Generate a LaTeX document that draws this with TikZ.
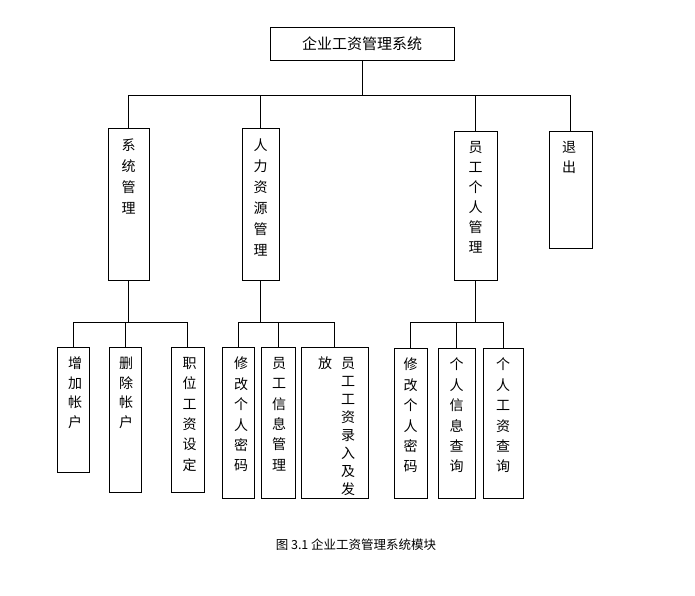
\documentclass[tikz,border=0pt]{standalone}
\usepackage{fontspec}
\newfontfamily\cjk{Noto Sans CJK SC}

\begin{document}
\begin{tikzpicture}[
  x=1pt,y=-1pt,
  line cap=rect,
  line join=miter,
  modbox/.style={draw=black,line width=0.8pt,inner sep=0pt,anchor=north},
  coltext/.style={anchor=north,align=center,inner sep=0pt,
    font=\cjk\fontsize{14}{20}\selectfont},
  link/.style={black,line width=0.8pt}
]
\path[use as bounding box,fill=white] (0,0) rectangle (695,595);

% root
\node[modbox,anchor=center,minimum width=184pt,minimum height=33pt,
  font=\cjk\fontsize{15}{18}\selectfont] (root) at (362,43.5) {企业工资管理系统};

% second level
\node[modbox,minimum width=41pt,minimum height=152pt] (sys) at (128.5,128) {};
\node[modbox,minimum width=37pt,minimum height=152pt] (hr) at (260.5,128) {};
\node[modbox,minimum width=43pt,minimum height=149pt] (staff) at (475.5,131) {};
\node[modbox,minimum width=43pt,minimum height=117pt] (quit) at (570.5,131) {};

\node[coltext,font=\cjk\fontsize{14}{21}\selectfont] (sysT) at ([yshift=-11pt]sys.north) {系\\统\\管\\理};
\node[coltext,font=\cjk\fontsize{14}{21}\selectfont] (hrT) at ([yshift=-11pt]hr.north) {人\\力\\资\\源\\管\\理};
\node[coltext] (staffT) at ([yshift=-10pt]staff.north) {员\\工\\个\\人\\管\\理};
\node[coltext] (quitT) at ([xshift=-1.5pt,yshift=-10pt]quit.north) {退\\出};

% third level
\node[modbox,minimum width=32pt,minimum height=125pt] (add) at (73,347) {};
\node[modbox,minimum width=32pt,minimum height=145pt] (del) at (125,347) {};
\node[modbox,minimum width=33pt,minimum height=145pt] (post) at (187.5,347) {};
\node[modbox,minimum width=32pt,minimum height=151pt] (pwd) at (238,347) {};
\node[modbox,minimum width=34pt,minimum height=151pt] (info) at (278,347) {};
\node[modbox,minimum width=67pt,minimum height=151pt] (pay) at (334.5,347) {};
\node[modbox,minimum width=33pt,minimum height=150pt] (pwdB) at (410.5,348) {};
\node[modbox,minimum width=37pt,minimum height=150pt] (qinfo) at (456.5,348) {};
\node[modbox,minimum width=40pt,minimum height=150pt] (qpay) at (503,348) {};

\node[coltext,font=\cjk\fontsize{14}{19.5}\selectfont] (addT) at ([xshift=2pt,yshift=-10pt]add.north) {增\\加\\帐\\户};
\node[coltext,font=\cjk\fontsize{14}{19.5}\selectfont] (delT) at ([xshift=1pt,yshift=-10pt]del.north) {删\\除\\帐\\户};
\node[coltext,font=\cjk\fontsize{14}{20.4}\selectfont] (postT) at ([xshift=2pt,yshift=-10pt]post.north) {职\\位\\工\\资\\设\\定};
\node[coltext,font=\cjk\fontsize{14}{20.4}\selectfont] (pwdT) at ([xshift=3pt,yshift=-10pt]pwd.north) {修\\改\\个\\人\\密\\码};
\node[coltext,font=\cjk\fontsize{14}{20.4}\selectfont] (infoT) at ([xshift=1pt,yshift=-10pt]info.north) {员\\工\\信\\息\\管\\理};
\node[coltext,font=\cjk\fontsize{14}{18}\selectfont] (payT) at ([xshift=13.5pt,yshift=-10pt]pay.north) {员\\工\\工\\资\\录\\入\\及\\发};
\node[coltext] (payU) at ([xshift=-9.5pt,yshift=-10pt]pay.north) {放};
\node[coltext,font=\cjk\fontsize{14}{20.4}\selectfont] (pwdBT) at ([yshift=-10pt]pwdB.north) {修\\改\\个\\人\\密\\码};
\node[coltext,font=\cjk\fontsize{14}{20.4}\selectfont] (qinfoT) at ([yshift=-10pt]qinfo.north) {个\\人\\信\\息\\查\\询};
\node[coltext,font=\cjk\fontsize{14}{20.4}\selectfont] (qpayT) at ([yshift=-10pt]qpay.north) {个\\人\\工\\资\\查\\询};

% connectors
\coordinate (busTop) at (0,95);
\draw[link] (root.south) -- (root.south |- busTop);
\draw[link] (sys.north |- busTop) -- (quit.north |- busTop);
\foreach \n in {sys,hr,staff,quit}
  \draw[link] (\n.north |- busTop) -- (\n.north);

\coordinate (busLow) at (0,322);
\draw[link] (sys.south) -- (sys.south |- busLow);
\draw[link] (add.north |- busLow) -- (post.north |- busLow);
\foreach \n in {add,del,post}
  \draw[link] (\n.north |- busLow) -- (\n.north);

\draw[link] (hr.south) -- (hr.south |- busLow);
\draw[link] (pwd.north |- busLow) -- (pay.north |- busLow);
\foreach \n in {pwd,info,pay}
  \draw[link] (\n.north |- busLow) -- (\n.north);

\draw[link] (staff.south) -- (staff.south |- busLow);
\draw[link] (pwdB.north |- busLow) -- (qpay.north |- busLow);
\foreach \n in {pwdB,qinfo,qpay}
  \draw[link] (\n.north |- busLow) -- (\n.north);

% caption
\node[font=\cjk\fontsize{12.5}{15}\selectfont] (cap) at (356,545) {图 3.1 企业工资管理系统模块};
\end{tikzpicture}
\end{document}
